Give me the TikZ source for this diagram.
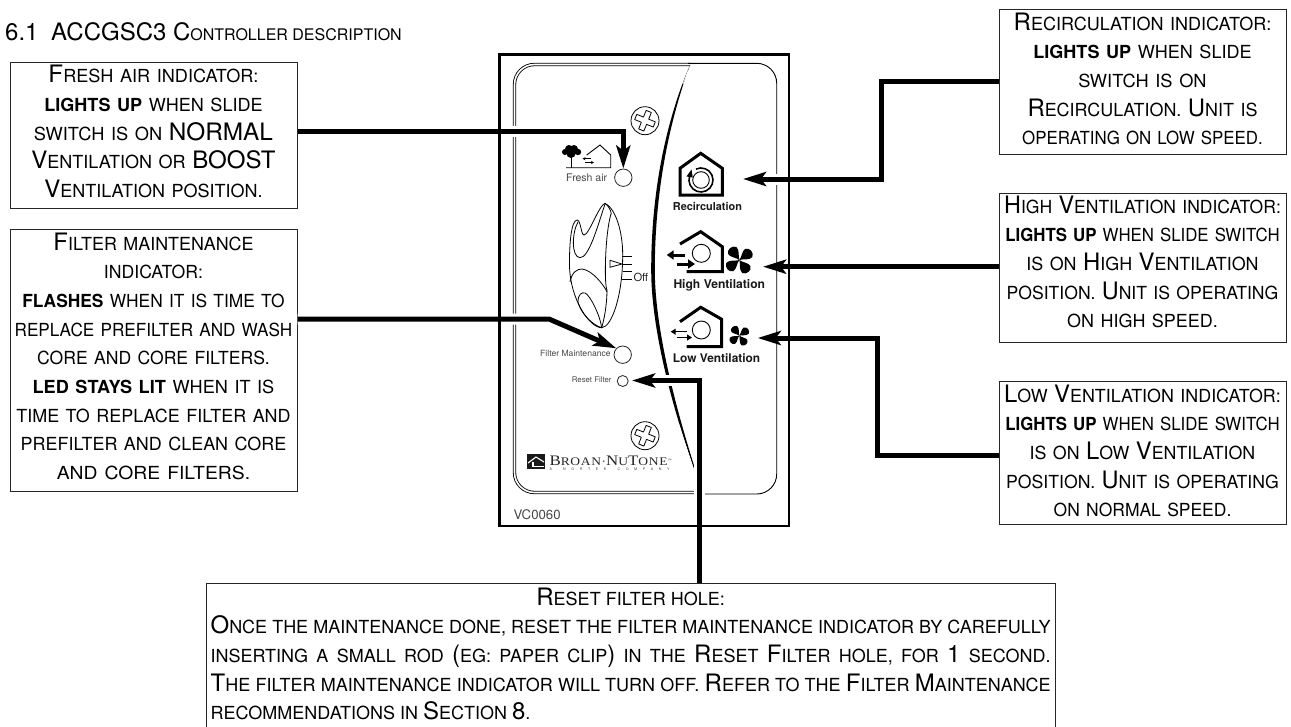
\documentclass[tikz,border=0pt]{standalone}
\usepackage{fontspec}
\setmainfont{TeX Gyre Heros}
\newfontfamily\serifbrand{Liberation Serif}
\usetikzlibrary{arrows.meta,calc}
\newcommand\B[1]{{\fontsize{24}{28.7}\selectfont #1}}
\newcommand\HB[1]{{\fontsize{18}{28.7}\selectfont\bfseries #1}}
% #1 raise of the first baseline above node centre, #2 width, #3 lines
\newcommand\btext[3]{\raisebox{#1pt}[0pt][0pt]{\vtop{\hsize=#2pt\parindent=0pt\fontsize{18}{28.7}\selectfont #3\par}}}
\newcommand\jl[1]{\hbox to\hsize{#1}}
% a centred line, set to a given width
\newcommand\fitl[2]{\hbox to\hsize{\hfil\resizebox{#1pt}{\height}{\spaceskip=6.5pt\relax #2}\hfil}}
\tikzset{
  bx/.style={draw=black!85,line width=1pt,inner sep=0pt,fill=none,anchor=center},
  led/.style={circle,draw=black!85,line width=.8pt,inner sep=0pt,fill=white},
  arr/.style={line width=5pt,black,line join=miter,-{Stealth[length=23pt,width=14pt,inset=5pt]}},
  halo/.style={line width=11pt,white,shorten >=20pt},
  lab/.style={inner sep=0pt,anchor=base west,text=black!72},
  blab/.style={inner sep=0pt,anchor=base west,text=black!90,font=\bfseries},
  hs/.style={line width=3pt,black,line join=miter},
}
\newcommand\screw[3]{\node[circle,draw,line width=.8pt,minimum size=28pt,inner sep=0pt] (#1) at (#2,#3) {};
  \draw[line width=.8pt,shift={(#2,#3)},rotate=-22,line join=round]
   (-2.8,-10)--(2.8,-10)--(2.8,-2.8)--(10,-2.8)--(10,2.8)--(2.8,2.8)--(2.8,10)--(-2.8,10)--(-2.8,2.8)--(-10,2.8)--(-10,-2.8)--(-2.8,-2.8)--cycle;}
\newcommand\fan[3]{\foreach \a in {0,90,180,270}{
  \fill[black,shift={(#1,#2)},rotate=\a,x=#3pt,y=#3pt]
   (0,0) .. controls (.1,-.25) and (-.05,-.75) .. (.22,-1) .. controls (.55,-1.15) and (1,-.8) .. (.85,-.45) .. controls (.7,-.2) and (.25,-.2) .. (0,0) -- cycle;}}
\begin{document}
\begin{tikzpicture}[x=1pt,y=-1pt]
\useasboundingbox (0,0) rectangle (1291,726);
\fill[white] (0,0) rectangle (1291,726);
\coordinate (e1) at (0,131.7);
\coordinate (e4) at (0,455);
\coordinate (e5) at (0,319);
\coordinate (k1) at (881,179);
\coordinate (t1) at (743,179);
\coordinate (t2) at (763,266.7);
\coordinate (k4) at (877,338);
\coordinate (t4) at (757.7,338);
\coordinate (k5) at (549,319);
\coordinate (k6) at (699.5,380.5);
\coordinate (t6) at (632,380.5);
% title
\node[inner sep=0pt,anchor=base west] (title) at (5,40) {\fontsize{16}{20}\selectfont\B{6.1\hspace{6pt} ACCGSC3 C}ONTROLLER DESCRIPTION};
% boxes
\node[bx,minimum width=287pt,minimum height=146pt] (fbox) at (153.5,135)
 {\btext{52.3}{285}{%
  \fitl{210}{\B{F}RESH AIR INDICATOR:}
  \fitl{218.3}{\HB{LIGHTS UP} WHEN SLIDE}
  \fitl{239}{SWITCH IS ON \B{NORMAL}}
  \fitl{244.3}{\B{V}ENTILATION OR \B{BOOST}}
  \fitl{218.3}{\B{V}ENTILATION POSITION.}}};
\node[bx,minimum width=287pt,minimum height=262pt] (mbox) at (153.5,360)
 {\btext{110}{285}{%
  \fitl{200}{\B{F}ILTER MAINTENANCE}
  \fitl{99}{INDICATOR:}
  \fitl{262.3}{\HB{FLASHES} WHEN IT IS TIME TO}
  \fitl{277.7}{REPLACE PREFILTER AND WASH}
  \fitl{232.7}{CORE AND CORE FILTERS.}
  \fitl{241.7}{\HB{LED STAYS LIT} WHEN IT IS}
  \fitl{274.3}{TIME TO REPLACE FILTER AND}
  \fitl{265.7}{PREFILTER AND CLEAN CORE}
  \fitl{193.3}{AND CORE FILTERS.}}};
\node[bx,minimum width=287pt,minimum height=145pt] (rbox) at (1142.5,81.5)
 {\btext{51.5}{285}{%
  \fitl{257.7}{\B{R}ECIRCULATION INDICATOR:}
  \fitl{218.3}{\HB{LIGHTS UP} WHEN SLIDE}
  \fitl{128.3}{SWITCH IS ON}
  \fitl{230}{\B{R}ECIRCULATION. \B{U}NIT IS}
  \fitl{240.7}{OPERATING ON LOW SPEED.}}};
\node[bx,minimum width=287pt,minimum height=148.5pt] (hbox) at (1142.5,267.75)
 {\btext{54.75}{285}{%
  \fitl{276.7}{\B{H}IGH \B{V}ENTILATION INDICATOR:}
  \fitl{274.3}{\HB{LIGHTS UP} WHEN SLIDE SWITCH}
  \fitl{232.3}{IS ON \B{H}IGH \B{V}ENTILATION}
  \fitl{271.7}{POSITION. \B{U}NIT IS OPERATING}
  \fitl{150.7}{ON HIGH SPEED.}}};
\node[bx,minimum width=287pt,minimum height=143pt] (lbox) at (1142.5,452.5)
 {\btext{50.5}{285}{%
  \fitl{276.7}{\B{L}OW \B{V}ENTILATION INDICATOR:}
  \fitl{274.3}{\HB{LIGHTS UP} WHEN SLIDE SWITCH}
  \fitl{225.7}{IS ON \B{L}OW \B{V}ENTILATION}
  \fitl{272.7}{POSITION. \B{U}NIT IS OPERATING}
  \fitl{177.7}{ON NORMAL SPEED.}}};
\node[bx,minimum width=849pt,minimum height=150pt] (bbox) at (630.65,658.7)
 {\btext{53.7}{840}{%
  \jl{\hfil\B{R}ESET FILTER HOLE:\hfil}
  \jl{\B{O}NCE THE MAINTENANCE DONE, RESET THE FILTER MAINTENANCE INDICATOR BY CAREFULLY}
  \jl{INSERTING A SMALL ROD \B{(}EG: PAPER CLIP\B{)} IN THE \B{R}ESET \B{F}ILTER HOLE, FOR \B{1} SECOND.}
  \jl{\B{T}HE FILTER MAINTENANCE INDICATOR WILL TURN OFF. \B{R}EFER TO THE \B{F}ILTER \B{M}AINTENANCE}
  \jl{RECOMMENDATIONS IN \B{S}ECTION \B{8}.\hfil}}};
% panel inner outline
\draw[line width=.85pt,double,double distance=1.6pt,rounded corners=20pt] (690,64.5) -- (514.5,64.5) -- (514.5,492.5) -- (703,492.5);
\draw[line width=.9pt,rounded corners=20pt] (688,63.3) -- (776.7,63.3) -- (776.7,494) -- (700,494);
% S curve
\fill[black] (690,65) .. controls (670.5,110) and (651.2,180) .. (651.2,270) .. controls (651.2,330) and (673.2,415) .. (703,493)
  .. controls (676.8,415) and (654.8,330) .. (654.8,270) .. controls (654.8,180) and (673.5,110) .. (690,65) -- cycle;
\draw[white,line width=.7pt] (688.4,70) -- (683,84);
\draw[white,line width=.7pt] (679,425) -- (692,465);
% connectors, white halo first
\newcommand\conns[1]{%
 \draw[#1] (fbox.east |- e1) -| (led1.north);
 \draw[#1] (rbox.west) -| (k1) -- (t1);
 \draw[#1] (hbox.west |- t2) -- (t2);
 \draw[#1] (lbox.west |- e4) -| (k4) -- (t4);
 \draw[#1] (mbox.east |- e5) -- (k5) -- (led2.north west);
 \draw[#1] (bbox.north -| k6) -- (k6) -- (t6);}
\node[led,minimum size=17.4pt] (led1) at (623.3,177.7) {};
\node[led,minimum size=17.4pt] (led2) at (622.7,354.7) {};
\node[led,minimum size=11pt] (led3) at (622.7,381) {};
\conns{halo}
% plate
\node[draw,line width=2.5pt,minimum width=289.5pt,minimum height=471.3pt,inner sep=0pt] (plate) at (644.25,290.35) {};
% screws
\screw{s1}{645}{120.7}
\screw{s2}{645}{435.7}
% fresh air icon
\fill[black] (565,152) circle (3pt) (569,149) circle (4pt) (574,149) circle (4pt) (578,152) circle (3.2pt) (571,153.5) circle (4.5pt);
\draw[line width=1.8pt] (571.5,155) -- (571.5,167.5);
\draw[line width=.9pt] (566,167.7) -- (610.7,167.7) -- (610.7,155) -- (600,145) -- (586.7,155);
\draw[line width=.7pt,-{Stealth[length=3pt,width=3pt]}] (591,158.7) -- (582.5,158.7);
\draw[line width=.7pt,-{Stealth[length=3pt,width=3pt]}] (585,162.5) -- (594,162.5);
\node[lab,font=\fontsize{10.5}{12}\selectfont] (tfresh) at (566,181.7) {Fresh air};
% switch
\begin{scope}[line width=.8pt]
\draw (605,203.3) .. controls (615,208) and (622.7,230) .. (622.7,255) .. controls (622.7,295) and (612,327) .. (601.7,327.7)
  .. controls (590,328) and (570,300) .. (569.5,265) .. controls (569.3,245) and (571,220) .. (577.3,220)
  .. controls (581,221) and (581,235) .. (584,235) .. controls (589,235) and (599,205) .. (605,203.3) -- cycle;
\draw (605,203.3) .. controls (611,208) and (612,215) .. (610.7,215) .. controls (605,235) and (604,285) .. (607,290) .. controls (607,305) and (604,320) .. (601.7,327.7);
\draw (578,222) .. controls (572,232) and (571,257) .. (580,257.7) .. controls (589,258) and (598,225) .. (605,204);
\draw (570,282) .. controls (572,272) and (577,269) .. (582,269) .. controls (592,270) and (604,285) .. (607,292);
\draw (578,302) .. controls (578,294) and (582,292) .. (585,293) .. controls (590,295) and (600,315) .. (601.7,327.7) .. controls (592,325) and (580,312) .. (578,302);
\draw (622,256) -- (631.7,256) (622.7,264) -- (631.7,264) (622.5,271.7) -- (631.7,271.7) (621.5,279.3) -- (631.7,279.3);
\draw (610,260.3) -- (622,264) -- (610,267.3) -- cycle;
\end{scope}
\node[lab,text=black!85,font=\fontsize{11.2}{12}\selectfont] (toff) at (633.3,281.7) {Off};
% recirculation icon
\draw[hs] (680,195) -- (680,168.3) -- (700.7,153.3) -- (722.3,168.3) -- (722.3,195) -- cycle;
\draw[line width=.9pt] (701,180) circle (8.3pt);
\draw[line width=1.6pt] (695.9,169.1) arc (115:-200:12pt);
\fill[black] (691.5,169.5) -- (686.5,176.5) -- (692.8,177.5) -- cycle;
\node[blab,font=\fontsize{10.9}{12}\selectfont\bfseries] (trec) at (672.7,210) {Recirculation};
% high ventilation icon
\draw[hs] (680,244) -- (700.7,231.7) -- (722.3,246.7) -- (722.3,271.7) -- (686.7,271.7);
\draw[line width=.9pt] (701.3,253.3) circle (9pt);
\draw[line width=3pt,-{Stealth[length=7pt,width=9pt,inset=0pt]}] (685,255) -- (666.7,255);
\draw[line width=3pt,-{Stealth[length=7pt,width=9pt,inset=0pt]}] (676.7,264) -- (695,264);
\fan{739.3}{260}{13}
\node[blab,font=\fontsize{12.1}{13}\selectfont\bfseries] (thigh) at (673.3,288.3) {High Ventilation};
% low ventilation icon
\draw[hs] (680,321.7) -- (700.7,307.3) -- (721.7,319.3) -- (721.7,346.7) -- (686.7,346.7);
\draw[line width=.9pt] (701.3,330) circle (9pt);
\draw[line width=1.5pt,-{Stealth[length=5pt,width=6pt,inset=0pt]}] (686.7,331.7) -- (670.7,331.7);
\draw[line width=1.5pt,-{Stealth[length=5pt,width=6pt,inset=0pt]}] (676.7,337.5) -- (692,337.5);
\fan{739.3}{335.7}{9.5}
\node[blab,font=\fontsize{11.9}{13}\selectfont\bfseries] (tlow) at (672.7,362.3) {Low Ventilation};
% panel small labels
\node[lab,font=\fontsize{8.6}{10}\selectfont] (tfm) at (540,356.7) {Filter Maintenance};
\node[lab,font=\fontsize{7.8}{9}\selectfont] (trf) at (571.7,382.7) {Reset Filter};
\node[lab,font=\fontsize{13.2}{14}\selectfont] (tvc) at (513.3,519) {VC0060};
% logo
\fill[black!90] (526.7,454) rectangle (545,469.3);
\draw[white,line width=1.1pt] (528,463) -- (536,457) -- (544,462);
\draw[white,line width=1.1pt] (533,466.5) -- (544,466.5) (533,466.5) -- (533,462);
\node[inner sep=0pt,anchor=base west,text=black!85] (tbrand) at (549.3,465)
 {\resizebox{122pt}{\height}{\serifbrand\addfontfeature{LetterSpace=5}\fontsize{14.5}{15}\selectfont B\fontsize{11.6}{15}\selectfont ROAN·\fontsize{14.5}{15}\selectfont N\fontsize{11.6}{15}\selectfont U\fontsize{14.5}{15}\selectfont T\fontsize{11.6}{15}\selectfont ONE\raisebox{4pt}{\fontsize{3.5}{4}\selectfont ™}}};
\node[inner sep=0pt,anchor=base west,text=black!75] (tnortek) at (549.3,470.3)
 {\hbox to 120pt{\fontsize{3.6}{4}\selectfont A\hfil\hfil N\hfil O\hfil R\hfil T\hfil E\hfil K\hfil\hfil C\hfil O\hfil M\hfil P\hfil A\hfil N\hfil Y}};
\conns{arr}
\end{tikzpicture}
\end{document}
